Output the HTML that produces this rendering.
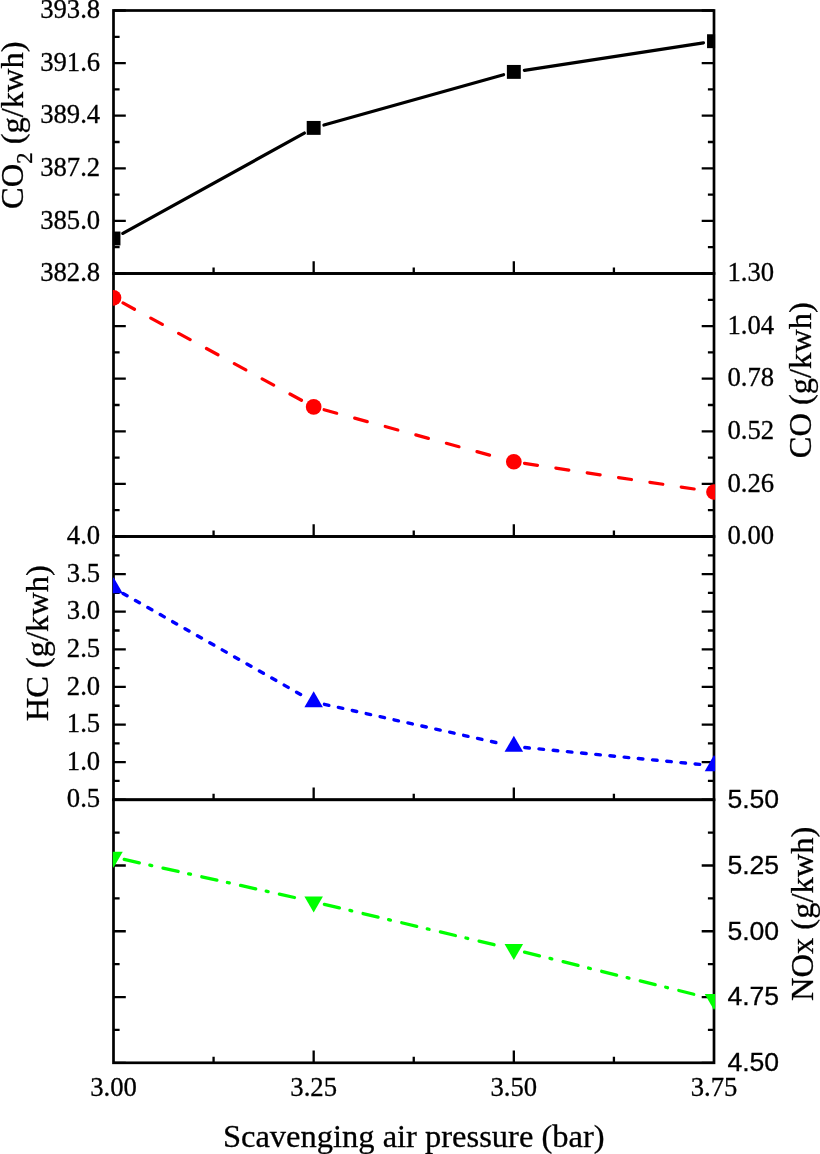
<!DOCTYPE html>
<html><head><meta charset="utf-8"><title>Emissions vs scavenging air pressure</title>
<style>html,body{margin:0;padding:0;background:#fff;}svg{display:block;}</style></head>
<body><svg width="820" height="1154" viewBox="0 0 820 1154">
<defs><clipPath id="clip"><rect x="112.8" y="0" width="602.30" height="1154"/></clipPath></defs>
<rect width="820" height="1154" fill="#fff"/>
<g fill="none" stroke="#000" stroke-width="2.7"><rect x="113.50" y="10.50" width="600.50" height="263.00"/><rect x="113.50" y="273.50" width="600.50" height="263.00"/><rect x="113.50" y="536.50" width="600.50" height="263.25"/><rect x="113.50" y="799.75" width="600.50" height="263.05"/></g>
<path d="M313.67 273.50L313.67 261.20 M513.83 273.50L513.83 261.20 M213.58 273.50L213.58 267.40 M413.75 273.50L413.75 267.40 M613.92 273.50L613.92 267.40 M313.67 536.50L313.67 524.20 M513.83 536.50L513.83 524.20 M213.58 536.50L213.58 530.40 M413.75 536.50L413.75 530.40 M613.92 536.50L613.92 530.40 M313.67 799.75L313.67 787.45 M513.83 799.75L513.83 787.45 M213.58 799.75L213.58 793.65 M413.75 799.75L413.75 793.65 M613.92 799.75L613.92 793.65 M313.67 1062.80L313.67 1050.50 M513.83 1062.80L513.83 1050.50 M213.58 1062.80L213.58 1056.70 M413.75 1062.80L413.75 1056.70 M613.92 1062.80L613.92 1056.70 M113.50 10.50L125.80 10.50 M714.00 10.50L701.70 10.50 M113.50 36.80L119.60 36.80 M714.00 36.80L707.90 36.80 M113.50 63.10L125.80 63.10 M714.00 63.10L701.70 63.10 M113.50 89.40L119.60 89.40 M714.00 89.40L707.90 89.40 M113.50 115.70L125.80 115.70 M714.00 115.70L701.70 115.70 M113.50 142.00L119.60 142.00 M714.00 142.00L707.90 142.00 M113.50 168.30L125.80 168.30 M714.00 168.30L701.70 168.30 M113.50 194.60L119.60 194.60 M714.00 194.60L707.90 194.60 M113.50 220.90L125.80 220.90 M714.00 220.90L701.70 220.90 M113.50 247.20L119.60 247.20 M714.00 247.20L707.90 247.20 M113.50 273.50L125.80 273.50 M714.00 273.50L701.70 273.50 M113.50 273.50L125.80 273.50 M714.00 273.50L701.70 273.50 M113.50 299.80L119.60 299.80 M714.00 299.80L707.90 299.80 M113.50 326.10L125.80 326.10 M714.00 326.10L701.70 326.10 M113.50 352.40L119.60 352.40 M714.00 352.40L707.90 352.40 M113.50 378.70L125.80 378.70 M714.00 378.70L701.70 378.70 M113.50 405.00L119.60 405.00 M714.00 405.00L707.90 405.00 M113.50 431.30L125.80 431.30 M714.00 431.30L701.70 431.30 M113.50 457.60L119.60 457.60 M714.00 457.60L707.90 457.60 M113.50 483.90L125.80 483.90 M714.00 483.90L701.70 483.90 M113.50 510.20L119.60 510.20 M714.00 510.20L707.90 510.20 M113.50 536.50L125.80 536.50 M714.00 536.50L701.70 536.50 M113.50 536.50L125.80 536.50 M714.00 536.50L701.70 536.50 M113.50 555.30L119.60 555.30 M714.00 555.30L707.90 555.30 M113.50 574.11L125.80 574.11 M714.00 574.11L701.70 574.11 M113.50 592.91L119.60 592.91 M714.00 592.91L707.90 592.91 M113.50 611.71L125.80 611.71 M714.00 611.71L701.70 611.71 M113.50 630.52L119.60 630.52 M714.00 630.52L707.90 630.52 M113.50 649.32L125.80 649.32 M714.00 649.32L701.70 649.32 M113.50 668.12L119.60 668.12 M714.00 668.12L707.90 668.12 M113.50 686.93L125.80 686.93 M714.00 686.93L701.70 686.93 M113.50 705.73L119.60 705.73 M714.00 705.73L707.90 705.73 M113.50 724.54L125.80 724.54 M714.00 724.54L701.70 724.54 M113.50 743.34L119.60 743.34 M714.00 743.34L707.90 743.34 M113.50 762.14L125.80 762.14 M714.00 762.14L701.70 762.14 M113.50 780.95L119.60 780.95 M714.00 780.95L707.90 780.95 M113.50 799.75L125.80 799.75 M714.00 799.75L701.70 799.75 M113.50 799.75L125.80 799.75 M714.00 799.75L701.70 799.75 M113.50 832.63L119.60 832.63 M714.00 832.63L707.90 832.63 M113.50 865.51L125.80 865.51 M714.00 865.51L701.70 865.51 M113.50 898.39L119.60 898.39 M714.00 898.39L707.90 898.39 M113.50 931.27L125.80 931.27 M714.00 931.27L701.70 931.27 M113.50 964.16L119.60 964.16 M714.00 964.16L707.90 964.16 M113.50 997.04L125.80 997.04 M714.00 997.04L701.70 997.04 M113.50 1029.92L119.60 1029.92 M714.00 1029.92L707.90 1029.92 M113.50 1062.80L125.80 1062.80 M714.00 1062.80L701.70 1062.80" fill="none" stroke="#000" stroke-width="2.3"/>
<g fill="none" stroke="#000000" stroke-width="3.3" stroke-linecap="round"><path d="M122.87 233.33L304.30 133.07"/><path d="M323.97 125.02L503.53 74.78"/><path d="M524.41 70.28L703.42 42.82"/></g><g fill="#000000" clip-path="url(#clip)"><rect x="106.55" y="231.55" width="13.90" height="13.90"/><rect x="306.72" y="120.95" width="13.90" height="13.90"/><rect x="506.88" y="64.95" width="13.90" height="13.90"/><rect x="707.05" y="34.25" width="13.90" height="13.90"/></g><g fill="none" stroke="#ff0000" stroke-width="3.2" stroke-linecap="round" stroke-dasharray="13.1 18.6"><path d="M122.98 302.97L304.18 401.73"/><path d="M324.08 409.75L503.42 458.90"/><path d="M524.51 463.36L703.32 490.39"/></g><g fill="#ff0000" clip-path="url(#clip)"><circle cx="113.50" cy="297.80" r="7.85"/><circle cx="313.67" cy="406.90" r="7.85"/><circle cx="513.83" cy="461.75" r="7.85"/><circle cx="714.00" cy="492.00" r="7.85"/></g><g fill="none" stroke="#0000ff" stroke-width="3.4" stroke-linecap="round" stroke-dasharray="4.6 9.66"><path d="M123.06 593.44L304.11 696.46"/><path d="M324.40 704.29L503.10 744.11"/><path d="M524.78 747.56L703.05 764.74"/></g><g fill="#0000ff" clip-path="url(#clip)"><path d="M113.50 577.30L122.77 593.35L104.23 593.35Z"/><path d="M313.67 691.20L322.93 707.25L304.40 707.25Z"/><path d="M513.83 735.80L523.10 751.85L504.57 751.85Z"/><path d="M714.00 755.10L723.27 771.15L704.73 771.15Z"/></g><g fill="none" stroke="#00ff00" stroke-width="3.3" stroke-linecap="round" stroke-dasharray="15.45 10.8 1.9 11.6"><path d="M124.23 859.40L302.93 899.40"/><path d="M324.37 904.34L503.13 946.86"/><path d="M524.51 952.06L703.33 996.64"/></g><g fill="#00ff00" clip-path="url(#clip)"><path d="M113.50 867.70L122.77 851.65L104.23 851.65Z"/><path d="M313.67 912.50L322.93 896.45L304.40 896.45Z"/><path d="M513.83 960.10L523.10 944.05L504.57 944.05Z"/><path d="M714.00 1010.00L723.27 993.95L704.73 993.95Z"/></g>
<g fill="#000" stroke="#000" stroke-width="0.3"><text x="100.20" y="18.15" text-anchor="end" font-family="&quot;Liberation Serif&quot;, serif" font-size="26.7">393.8</text><text x="100.20" y="70.75" text-anchor="end" font-family="&quot;Liberation Serif&quot;, serif" font-size="26.7">391.6</text><text x="100.20" y="123.35" text-anchor="end" font-family="&quot;Liberation Serif&quot;, serif" font-size="26.7">389.4</text><text x="100.20" y="175.95" text-anchor="end" font-family="&quot;Liberation Serif&quot;, serif" font-size="26.7">387.2</text><text x="100.20" y="228.55" text-anchor="end" font-family="&quot;Liberation Serif&quot;, serif" font-size="26.7">385.0</text><text x="100.20" y="281.15" text-anchor="end" font-family="&quot;Liberation Serif&quot;, serif" font-size="26.7">382.8</text><text x="727.40" y="281.15" font-family="&quot;Liberation Serif&quot;, serif" font-size="26.7">1.30</text><text x="727.40" y="333.75" font-family="&quot;Liberation Serif&quot;, serif" font-size="26.7">1.04</text><text x="727.40" y="386.35" font-family="&quot;Liberation Serif&quot;, serif" font-size="26.7">0.78</text><text x="727.40" y="438.95" font-family="&quot;Liberation Serif&quot;, serif" font-size="26.7">0.52</text><text x="727.40" y="491.55" font-family="&quot;Liberation Serif&quot;, serif" font-size="26.7">0.26</text><text x="727.40" y="544.15" font-family="&quot;Liberation Serif&quot;, serif" font-size="26.7">0.00</text><text x="100.20" y="544.15" text-anchor="end" font-family="&quot;Liberation Serif&quot;, serif" font-size="26.7">4.0</text><text x="100.20" y="581.76" text-anchor="end" font-family="&quot;Liberation Serif&quot;, serif" font-size="26.7">3.5</text><text x="100.20" y="619.36" text-anchor="end" font-family="&quot;Liberation Serif&quot;, serif" font-size="26.7">3.0</text><text x="100.20" y="656.97" text-anchor="end" font-family="&quot;Liberation Serif&quot;, serif" font-size="26.7">2.5</text><text x="100.20" y="694.58" text-anchor="end" font-family="&quot;Liberation Serif&quot;, serif" font-size="26.7">2.0</text><text x="100.20" y="732.19" text-anchor="end" font-family="&quot;Liberation Serif&quot;, serif" font-size="26.7">1.5</text><text x="100.20" y="769.79" text-anchor="end" font-family="&quot;Liberation Serif&quot;, serif" font-size="26.7">1.0</text><text x="100.20" y="807.40" text-anchor="end" font-family="&quot;Liberation Serif&quot;, serif" font-size="26.7">0.5</text><text x="727.40" y="808.05" font-family="&quot;Liberation Sans&quot;, sans-serif" font-size="26.6">5.50</text><text x="727.40" y="873.81" font-family="&quot;Liberation Sans&quot;, sans-serif" font-size="26.6">5.25</text><text x="727.40" y="939.57" font-family="&quot;Liberation Sans&quot;, sans-serif" font-size="26.6">5.00</text><text x="727.40" y="1005.34" font-family="&quot;Liberation Sans&quot;, sans-serif" font-size="26.6">4.75</text><text x="727.40" y="1071.10" font-family="&quot;Liberation Sans&quot;, sans-serif" font-size="26.6">4.50</text><text x="113.50" y="1096.20" text-anchor="middle" font-family="&quot;Liberation Serif&quot;, serif" font-size="26.7">3.00</text><text x="313.67" y="1096.20" text-anchor="middle" font-family="&quot;Liberation Serif&quot;, serif" font-size="26.7">3.25</text><text x="513.83" y="1096.20" text-anchor="middle" font-family="&quot;Liberation Serif&quot;, serif" font-size="26.7">3.50</text><text x="714.00" y="1096.20" text-anchor="middle" font-family="&quot;Liberation Serif&quot;, serif" font-size="26.7">3.75</text><text x="413.75" y="1146.9" text-anchor="middle" font-family="&quot;Liberation Serif&quot;, serif" font-size="32.5">Scavenging air pressure (bar)</text><text transform="translate(23.30 208.90) rotate(-90)" font-family="&quot;Liberation Serif&quot;, serif" font-size="32.5">CO<tspan font-size="22.5" dy="8.8">2</tspan><tspan dy="-8.8"> (g/kwh)</tspan></text><text transform="translate(811.00 458.30) rotate(-90)" font-family="&quot;Liberation Serif&quot;, serif" font-size="32.5">CO (g/kwh)</text><text transform="translate(48.00 721.30) rotate(-90)" font-family="&quot;Liberation Serif&quot;, serif" font-size="32.5">HC (g/kwh)</text><text transform="translate(812.60 1001.00) rotate(-90)" font-family="&quot;Liberation Serif&quot;, serif" font-size="32.5">NOx (g/kwh)</text></g>
</svg></body></html>
